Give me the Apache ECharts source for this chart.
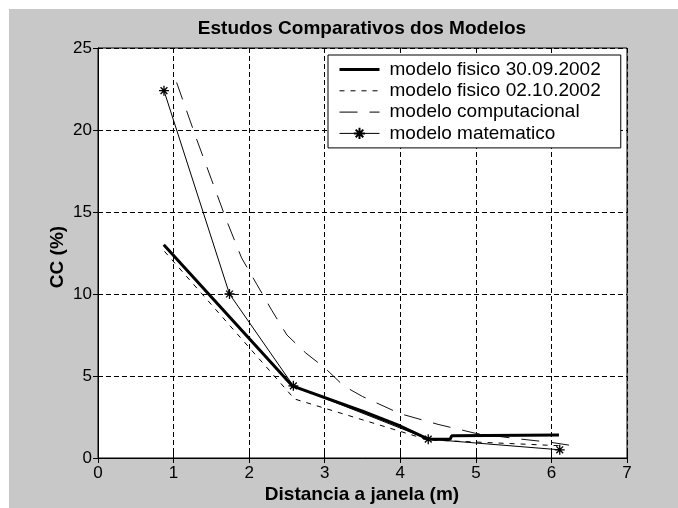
<!DOCTYPE html>
<html>
<head>
<meta charset="utf-8">
<script src="https://cdn.jsdelivr.net/npm/echarts@6/dist/echarts.min.js"></script>
<style>
html,body{margin:0;padding:0;background:#c8c8c8;overflow:hidden;}
#chart{position:absolute;left:0;top:0;width:678px;height:508px;}
</style>
</head>
<body>
<div id="chart"></div>
<script>
// ---- data ----
const seriesNames = ['modelo fisico 30.09.2002', 'modelo fisico 02.10.2002', 'modelo computacional', 'modelo matematico'];
const fis1X = [0.87, 2.57, 3.5, 4.0, 4.37, 4.66, 4.68, 6.1];
const fis1Y = [13.0, 4.4, 2.85, 1.95, 1.15, 1.15, 1.35, 1.4];
const fis2X = [0.88, 2.6, 4.37, 6.1];
const fis2Y = [12.6, 3.6, 1.1, 0.75];
const compX = [1.04, 1.3, 1.5, 1.7, 1.9, 2.1, 2.3, 2.5, 2.75, 3.0, 3.25, 3.5, 4.0, 4.5, 5.0, 5.5, 6.0, 6.35];
const compY = [22.9, 19.5, 17.0, 14.5, 12.2, 10.6, 9.0, 7.5, 6.4, 5.5, 4.4, 3.75, 2.7, 2.05, 1.5, 1.2, 0.95, 0.7];
const matX = [0.873, 1.74, 2.585, 4.37, 6.11];
const matY = [22.4, 10.0, 4.4, 1.15, 0.5];
const xTicks = [0, 1, 2, 3, 4, 5, 6, 7];
const yTicks = [0, 5, 10, 15, 20, 25];

const pair = (xs, ys) => xs.map((x, i) => [x, ys[i]]);
const star = 'path://M5 0 L5 10 M0 5 L10 5 M1.6 1.6 L8.4 8.4 M1.6 8.4 L8.4 1.6';
const fontReg = 'Liberation Sans, Arial, sans-serif';
const fontTick = 'Liberation Sans Narrow, Arial Narrow, Liberation Sans, Arial, sans-serif';

const chart = echarts.init(document.getElementById('chart'), null, {renderer: 'canvas'});
const axisCommon = {
  type: 'value',
  axisLine: {show: true, lineStyle: {color: '#000', width: 1}},
  axisTick: {show: true, inside: true, length: 5, lineStyle: {color: '#000'}},
};
const hidden = {color: 'transparent', borderColor: 'transparent', borderWidth: 0};
chart.setOption({
  backgroundColor: '#c8c8c8',
  animation: false,
  grid: {left: 98, right: 51, top: 48, bottom: 50, show: true, backgroundColor: '#fff', borderColor: '#000', borderWidth: 1},
  xAxis: [
    Object.assign({}, axisCommon, {
      min: xTicks[0], max: xTicks[xTicks.length - 1], interval: 1,
      axisLabel: {color: '#000', fontSize: 17, fontFamily: fontTick, margin: 7,
        formatter: v => xTicks.includes(v) ? String(v) : ''},
      splitLine: {show: true, lineStyle: {color: '#000', type: [5, 3], width: 1}}
    }),
    Object.assign({}, axisCommon, {
      position: 'top', min: 0, max: 7, interval: 1,
      axisLabel: {show: false}, splitLine: {show: false}
    })
  ],
  yAxis: [
    Object.assign({}, axisCommon, {
      min: yTicks[0], max: yTicks[yTicks.length - 1], interval: 5,
      axisLabel: {color: '#000', fontSize: 17, fontFamily: fontTick, margin: 6,
        formatter: v => yTicks.includes(v) ? String(v) : ''},
      splitLine: {show: true, lineStyle: {color: '#000', type: [5, 3], width: 1}}
    }),
    Object.assign({}, axisCommon, {
      position: 'right', min: 0, max: 25, interval: 5,
      axisLabel: {show: false}, splitLine: {show: false}
    })
  ],
  legend: {
    left: 328, top: 55, orient: 'vertical',
    backgroundColor: '#fff', borderColor: '#000', borderWidth: 1, borderRadius: 0,
    padding: [4, 20, 4, 10],
    itemWidth: 40, itemHeight: 14, itemGap: 0.3,
    textStyle: {fontSize: 19, fontFamily: fontReg, color: '#000', lineHeight: 21, padding: [0, 0, 0, 5]},
    data: [
      {name: seriesNames[0], itemStyle: hidden, lineStyle: {width: 3, type: 'solid', color: '#000'}},
      {name: seriesNames[1], itemStyle: hidden, lineStyle: {width: 1, type: [5, 6], color: '#000'}},
      {name: seriesNames[2], itemStyle: hidden, lineStyle: {width: 1, type: [18, 12], color: '#000'}},
      {name: seriesNames[3], lineStyle: {width: 1, type: 'solid', color: '#000'}}
    ]
  },
  graphic: [
    {type: 'rect', left: 0, top: 0, z: -10, silent: true, shape: {width: 678, height: 9}, style: {fill: '#fff'}},
    {type: 'rect', left: 0, top: 0, z: -10, silent: true, shape: {width: 9, height: 508}, style: {fill: '#fff'}},
    {type: 'text', x: 362, y: 29, style: {text: 'Estudos Comparativos dos Modelos', fontSize: 19, fontWeight: 'bold', fontFamily: fontReg, fill: '#000', textAlign: 'center', textVerticalAlign: 'middle'}},
    {type: 'text', x: 362, y: 495, style: {text: 'Distancia a janela (m)', fontSize: 19, fontWeight: 'bold', fontFamily: fontReg, fill: '#000', textAlign: 'center', textVerticalAlign: 'middle'}},
    {type: 'text', x: 58, y: 257, rotation: Math.PI / 2, style: {text: 'CC (%)', fontSize: 19, fontWeight: 'bold', fontFamily: fontReg, fill: '#000', textAlign: 'center', textVerticalAlign: 'middle'}}
  ],
  series: [
    {name: seriesNames[0], type: 'line', data: pair(fis1X, fis1Y), showSymbol: false, symbol: 'none',
      lineStyle: {color: '#000', width: 3, type: 'solid'}, itemStyle: {color: '#000'}, z: 5},
    {name: seriesNames[1], type: 'line', data: pair(fis2X, fis2Y), showSymbol: false, symbol: 'none',
      lineStyle: {color: '#000', width: 1, type: [5, 6]}, itemStyle: {color: '#000'}, z: 4},
    {name: seriesNames[2], type: 'line', data: pair(compX, compY), showSymbol: false, symbol: 'none',
      lineStyle: {color: '#111', width: 1, type: [18, 12]}, itemStyle: {color: '#000'}, z: 4},
    {name: seriesNames[3], type: 'line', data: pair(matX, matY), symbol: star, symbolSize: 10, showSymbol: true,
      lineStyle: {color: '#000', width: 1, type: 'solid'},
      itemStyle: {color: 'transparent', borderColor: '#000', borderWidth: 1.3}, z: 6}
  ]
});
</script>
</body>
</html>
